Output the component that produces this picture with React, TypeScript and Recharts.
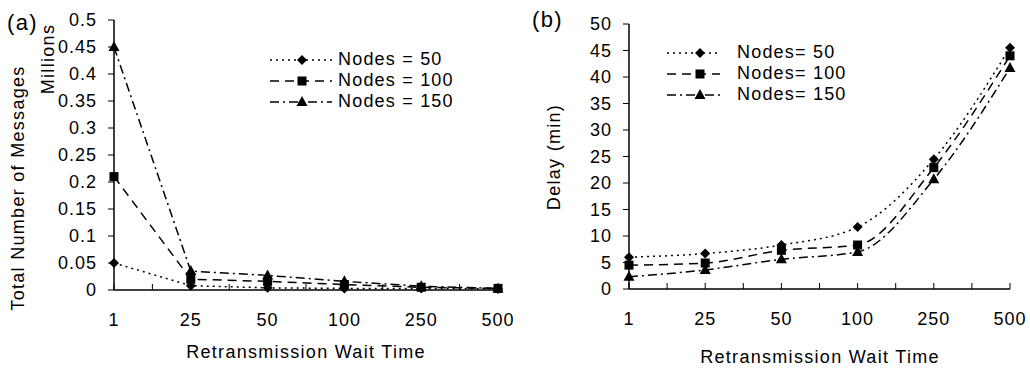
import React from "react"
import { LineChart, Line, XAxis, YAxis, Legend } from "recharts"

const categories = ["1", "25", "50", "100", "250", "500"]

// (a) total number of messages, millions
const msgNodes50 = [0.05, 0.008, 0.004, 0.003, 0.003, 0.002]
const msgNodes100 = [0.21, 0.02, 0.016, 0.01, 0.005, 0.003]
const msgNodes150 = [0.45, 0.035, 0.027, 0.016, 0.007, 0.003]
const msgTicks = [0, 0.05, 0.1, 0.15, 0.2, 0.25, 0.3, 0.35, 0.4, 0.45, 0.5]

// (b) delay, minutes
const delayNodes50 = [6, 6.7, 8.3, 11.7, 24.5, 45.5]
const delayNodes100 = [4.5, 4.9, 7.3, 8.3, 22.9, 44]
const delayNodes150 = [2.3, 3.6, 5.6, 7.0, 20.7, 41.7]
const delayTicks = [0, 5, 10, 15, 20, 25, 30, 35, 40, 45, 50]

const FONT = "'Liberation Sans', Arial, sans-serif"

const seriesStyle = [
  { key: "n50", dash: "2 4", shape: "diamond" },
  { key: "n100", dash: "9 6", shape: "square" },
  { key: "n150", dash: "9 4 2 4", shape: "triangle" },
]

const msgData = categories.map((c, i) => ({
  x: i,
  n50: msgNodes50[i],
  n100: msgNodes100[i],
  n150: msgNodes150[i],
}))

const delayData = categories.map((c, i) => ({
  x: i,
  n50: delayNodes50[i],
  n100: delayNodes100[i],
  n150: delayNodes150[i],
}))

// ticks at every category and halfway between
const xTicks = categories.flatMap((_, i) => (i < categories.length - 1 ? [i, i + 0.5] : [i]))

function Marker({ cx, cy, shape }: { cx?: number; cy?: number; shape: string }) {
  if (cx == null || cy == null) return null
  if (shape === "diamond") {
    return <polygon points={`${cx},${cy - 5} ${cx + 5},${cy} ${cx},${cy + 5} ${cx - 5},${cy}`} fill="#000" />
  }
  if (shape === "square") {
    return <rect x={cx - 4.5} y={cy - 4.5} width={9} height={9} fill="#000" />
  }
  return <polygon points={`${cx},${cy - 6} ${cx + 5.5},${cy + 4} ${cx - 5.5},${cy + 4}`} fill="#000" />
}

function makeLegend(labels: string[], sampleW: number, markerX: number, gap: number) {
  return () => (
    <div style={{ fontFamily: FONT, fontSize: 18, color: "#000", letterSpacing: 1.2 }}>
      {seriesStyle.map((s, i) => (
        <div key={s.key} style={{ display: "flex", alignItems: "center", height: 21 }}>
          <svg width={sampleW} height={20} style={{ display: "block" }}>
            <line x1={0} y1={10} x2={sampleW} y2={10} stroke="#000" strokeWidth={1.5} strokeDasharray={s.dash} />
            <Marker cx={markerX} cy={10} shape={s.shape} />
          </svg>
          <span style={{ marginLeft: gap, whiteSpace: "nowrap" }}>{labels[i]}</span>
        </div>
      ))}
    </div>
  )
}

const tickStyle = { fill: "#000", fontSize: 18, fontFamily: FONT, letterSpacing: 1 }

function Panel({ data, width, margin, yWidth, xHeight, yTicks, yFormat, curve, legend, legendPos }: any) {
  return (
    <LineChart width={width} height={371} data={data} margin={margin}>
      <XAxis
        dataKey="x"
        type="number"
        domain={[0, categories.length - 1]}
        ticks={xTicks}
        interval={0}
        height={xHeight}
        tickFormatter={(v: number) => (Number.isInteger(v) ? categories[v] : "")}
        tickSize={-6}
        tickMargin={29}
        axisLine={{ stroke: "#000", strokeWidth: 1.5 }}
        tickLine={{ stroke: "#000" }}
        tick={tickStyle}
      />
      <XAxis
        xAxisId="top"
        orientation="top"
        type="number"
        domain={[0, 1]}
        height={0}
        tick={false}
        tickLine={false}
        axisLine={{ stroke: "#000", strokeWidth: 1.5 }}
      />
      <YAxis
        type="number"
        domain={[yTicks[0], yTicks[yTicks.length - 1]]}
        ticks={yTicks}
        interval={0}
        width={yWidth}
        tickFormatter={yFormat}
        tickSize={6}
        tickMargin={11}
        axisLine={{ stroke: "#000", strokeWidth: 1.5 }}
        tickLine={{ stroke: "#000" }}
        tick={tickStyle}
      />
      <YAxis
        yAxisId="right"
        orientation="right"
        type="number"
        domain={[0, 1]}
        width={0}
        tick={false}
        tickLine={false}
        axisLine={{ stroke: "#000", strokeWidth: 2 }}
      />
      <Legend
        layout="vertical"
        verticalAlign="middle"
        align="center"
        content={legend}
        wrapperStyle={{ position: "absolute", ...legendPos, width: "auto" }}
      />
      {seriesStyle.map((s) => (
        <Line
          key={s.key}
          dataKey={s.key}
          type={curve}
          stroke="#000"
          strokeWidth={1.5}
          strokeDasharray={s.dash}
          dot={(p: any) => <Marker key={p.index} cx={p.cx} cy={p.cy} shape={s.shape} />}
          activeDot={false}
          isAnimationActive={false}
        />
      ))}
    </LineChart>
  )
}

export default function App() {
  return (
    <div style={{ position: "absolute", left: 0, top: 0, width: 1030, height: 371, background: "#fff", fontFamily: FONT }}>
      <div style={{ position: "absolute", left: 0, top: 0 }}>
        <Panel
          data={msgData}
          width={520}
          margin={{ top: 20, right: 22, left: 0, bottom: 0 }}
          yWidth={114}
          xHeight={81}
          yTicks={msgTicks}
          yFormat={(v: number) => String(+v.toFixed(2))}
          curve="linear"
          legend={makeLegend(["Nodes = 50", "Nodes = 100", "Nodes = 150"], 62, 32, 6)}
          legendPos={{ left: 270, top: 49 }}
        />
      </div>
      <div style={{ position: "absolute", left: 520, top: 0 }}>
        <Panel
          data={delayData}
          width={510}
          margin={{ top: 24, right: 20, left: 0, bottom: 0 }}
          yWidth={109}
          xHeight={82}
          yTicks={delayTicks}
          yFormat={(v: number) => String(v)}
          curve="monotone"
          legend={makeLegend(["Nodes= 50", "Nodes= 100", "Nodes= 150"], 53, 33, 17)}
          legendPos={{ left: 147, top: 42 }}
        />
      </div>
      <svg width={1030} height={371} style={{ position: "absolute", left: 0, top: 0, pointerEvents: "none" }}>
        <g fontFamily={FONT} fill="#000" letterSpacing={1.3}>
          <text x={7} y={30} fontSize={22}>(a)</text>
          <text x={532} y={27} fontSize={22}>(b)</text>
          <text x={48} y={59} fontSize={18} textAnchor="middle" dominantBaseline="central" transform="rotate(-90 48 59)">Millions</text>
          <text x={18} y={188} fontSize={18} textAnchor="middle" dominantBaseline="central" transform="rotate(-90 18 188)">Total Number of Messages</text>
          <text x={554} y={157} fontSize={18} textAnchor="middle" dominantBaseline="central" transform="rotate(-90 554 157)">Delay (min)</text>
          <text x={306} y={352} fontSize={18} textAnchor="middle" dominantBaseline="central">Retransmission Wait Time</text>
          <text x={820} y={357} fontSize={18} textAnchor="middle" dominantBaseline="central">Retransmission Wait Time</text>
        </g>
      </svg>
    </div>
  )
}
